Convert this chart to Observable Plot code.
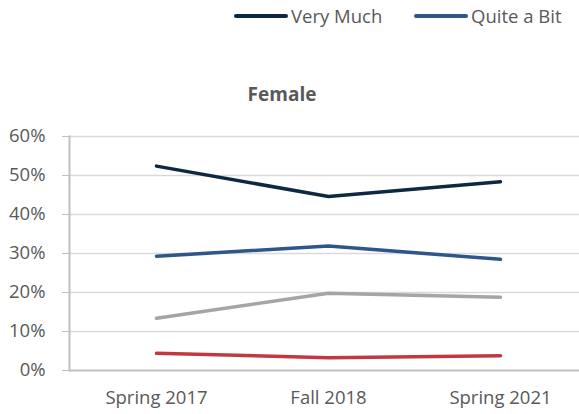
<!DOCTYPE html>
<html>
<head>
<meta charset="utf-8">
<script src="https://cdn.jsdelivr.net/npm/d3@7"></script>
<script src="https://cdn.jsdelivr.net/npm/@observablehq/plot@0.6"></script>
<style>
  body { margin: 0; background: #fff; }
  #wrap { position: relative; width: 579px; height: 414px; overflow: hidden; font-family: "Open Sans", sans-serif; color: #595959; }
  #legend { position: absolute; top: 0; left: 0; width: 579px; height: 34px; }
  .item { position: absolute; top: 3px; display: flex; align-items: center; font-size: 18.5px; line-height: 26px; }
  .swatch { width: 54px; height: 4px; border-radius: 2px; margin-right: 3px; }
  #title { position: absolute; top: 81px; left: 0; width: 564px; text-align: center; font-weight: bold; font-size: 19px; }
  #chart { position: absolute; top: 120px; left: 0; width: 579px; overflow: hidden; }
</style>
</head>
<body>
<div id="wrap">
  <div id="legend"></div>
  <div id="title">Female</div>
  <div id="chart"></div>
</div>
<script>
const periods = ["Spring 2017", "Fall 2018", "Spring 2021"];
const seriesNames = ["Very Much", "Quite a Bit", "Some", "Very Little"];
const veryMuch = [0.524, 0.446, 0.484];
const quiteABit = [0.293, 0.319, 0.285];
const some = [0.134, 0.198, 0.188];
const veryLittle = [0.044, 0.033, 0.038];
const colors = ["#0e2841", "#2f5689", "#a5a5a5", "#c1393f"];
const legendNames = ["Very Much", "Quite a Bit"];
const yTicks = [0, 0.1, 0.2, 0.3, 0.4, 0.5, 0.6];

const allValues = [veryMuch, quiteABit, some, veryLittle];
const rows = [];
seriesNames.forEach((s, i) => periods.forEach((p, j) => rows.push({series: s, period: p, value: allValues[i][j]})));

const legend = document.getElementById("legend");
const legendX = [234, 414];
legendNames.forEach((n, i) => {
  const d = document.createElement("div");
  d.className = "item";
  d.style.left = legendX[i] + "px";
  d.innerHTML = `<span class="swatch" style="background:${colors[seriesNames.indexOf(n)]}"></span><span>${n}</span>`;
  legend.appendChild(d);
});

const chart = Plot.plot({
  width: 579,
  height: 294,
  marginTop: 16,
  marginBottom: 44,
  marginLeft: 69,
  marginRight: -8,
  style: {fontFamily: "Open Sans, sans-serif", fontSize: "18.5px", color: "#595959", background: "white", overflow: "hidden"},
  x: {type: "point", domain: periods, padding: 0.5, label: null},
  y: {domain: [0, 0.6], label: null},
  color: {domain: seriesNames, range: colors},
  marks: [
    Plot.gridY(yTicks.filter(t => t > 0), {stroke: "#d9d9d9", strokeOpacity: 1, strokeWidth: 1.3}),
    Plot.frame({anchor: "left", stroke: "#bfbfbf", strokeWidth: 2}),
    Plot.ruleY([0], {stroke: "#bfbfbf", strokeWidth: 2}),
    Plot.axisY({ticks: yTicks, tickFormat: d3.format(".0%"), tickSize: 7, tickPadding: 17, stroke: "#bfbfbf", fill: "#595959"}),
    Plot.axisX({tickSize: 0, tickPadding: 20, fill: "#595959"}),
    Plot.line(rows, {x: "period", y: "value", z: "series", stroke: "series", strokeWidth: 3.5, strokeLinecap: "round", strokeLinejoin: "round"})
  ]
});
document.getElementById("chart").appendChild(chart);
</script>
</body>
</html>
